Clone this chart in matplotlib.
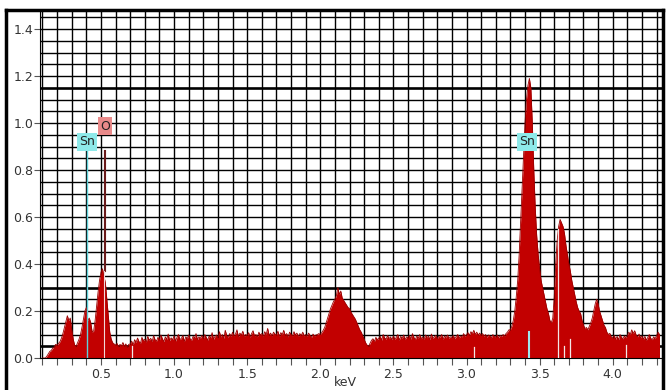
import numpy as np
import matplotlib.pyplot as plt
from matplotlib.ticker import MultipleLocator
from matplotlib.lines import Line2D

# EDS spectrum, counts in thousandths, one channel every 0.01 keV from 0.10 keV
e_start = 0.10
e_step = 0.01
counts = [
    0, 0, 0, 8, 18, 28, 32, 42, 48, 58,              # 0.10
    55, 62, 70, 85, 105, 130, 155, 180, 160, 170,    # 0.20
    120, 80, 55, 50, 65, 80, 100, 130, 165, 200,     # 0.30
    215, 160, 170, 150, 110, 115, 160, 220, 280, 330,  # 0.40
    365, 380, 350, 320, 250, 180, 110, 80, 65, 60,   # 0.50
    55, 62, 48, 58, 52, 66, 50, 60, 45, 58,          # 0.60
    60, 72, 55, 78, 66, 85, 70, 62, 88, 74,          # 0.70
    80, 68, 92, 75, 84, 70, 95, 78, 72, 88,          # 0.80
    76, 98, 82, 70, 90, 80, 102, 74, 86, 78,         # 0.90
    94, 72, 88, 100, 78, 84, 96, 70, 90, 82,         # 1.00
    98, 80, 76, 92, 86, 104, 78, 90, 84, 96,         # 1.10
    82, 100, 88, 76, 94, 86, 108, 80, 92, 98,        # 1.20
    86, 112, 90, 100, 84, 118, 96, 88, 104, 92,      # 1.30
    110, 94, 102, 120, 90, 106, 98, 114, 92, 100,    # 1.40
    96, 108, 88, 104, 116, 94, 100, 90, 110, 98,     # 1.50
    104, 92, 112, 100, 126, 96, 106, 94, 110, 102,   # 1.60
    98, 114, 92, 108, 100, 118, 96, 104, 90, 110,    # 1.70
    100, 94, 112, 98, 106, 92, 104, 96, 110, 94,     # 1.80
    100, 92, 106, 96, 88, 102, 94, 98, 100, 104,     # 1.90
    100, 108, 118, 130, 150, 170, 190, 210, 225, 240,  # 2.00
    250, 265, 300, 270, 285, 255, 245, 235, 225, 215,  # 2.10
    210, 195, 185, 175, 165, 150, 135, 120, 110, 95,   # 2.20
    80, 65, 55, 50, 62, 75, 82, 70, 88, 78,          # 2.30
    84, 92, 76, 100, 86, 80, 96, 82, 90, 78,         # 2.40
    94, 80, 88, 100, 76, 92, 84, 98, 78, 90,         # 2.50
    86, 96, 80, 104, 88, 78, 94, 84, 100, 82,        # 2.60
    90, 80, 98, 86, 94, 78, 102, 84, 90, 96,         # 2.70
    82, 92, 88, 100, 80, 94, 86, 98, 84, 90,         # 2.80
    88, 96, 82, 92, 100, 86, 94, 90, 104, 92,        # 2.90
    100, 108, 96, 112, 104, 118, 100, 110, 98, 106,  # 3.00
    96, 104, 92, 100, 88, 98, 94, 86, 100, 92,       # 3.10
    90, 98, 86, 96, 92, 100, 94, 104, 110, 120,      # 3.20
    120, 135, 160, 200, 260, 330, 440, 580, 720, 860,  # 3.30
    1000, 1100, 1160, 1190, 1150, 1000, 800, 640, 520, 440,  # 3.40
    380, 330, 300, 270, 240, 210, 190, 160, 150, 170,  # 3.50
    260, 400, 500, 560, 590, 575, 560, 530, 480, 440,  # 3.60
    400, 370, 330, 300, 270, 240, 215, 200, 190, 160,  # 3.70
    140, 125, 130, 120, 135, 150, 170, 200, 230, 250,  # 3.80
    230, 200, 180, 160, 140, 130, 110, 100, 105, 90,   # 3.90
    85, 96, 80, 92, 78, 100, 88, 82, 94, 86,         # 4.00
    96, 110, 100, 120, 104, 116, 98, 90, 102, 86,    # 4.10
    94, 80, 92, 76, 88, 100, 84, 78, 90, 82,         # 4.20
    96, 110, 100,                                    # 4.30
]
energy = e_start + e_step * np.arange(len(counts))
intensity = np.array(counts) / 1000.0

# element markers
elem_names = ['Sn', 'O', 'Sn']
elem_x = [0.404, 0.527, 3.414]
elem_y = [0.92, 0.987, 0.92]
elem_colors = ['#8ee9e9', '#e98a8a', '#8ee9e9']

# light gaps in the filled spectrum
gap_x = [0.71, 3.05, 3.625, 3.665, 3.71, 4.09]
gap_top = [0.05, 0.045, 0.55, 0.05, 0.08, 0.055]

fig = plt.figure(figsize=(6.67, 3.9), dpi=100)
ax = fig.add_axes([40/667, 1-358/390, 622/667, 347/390])

xmin, xmax = 0.083, 4.337
ax.set_xlim(xmin, xmax)
ax.set_ylim(0, 1.477)

# grid
for gx in np.arange(0.1, 4.35, 0.1):
    ax.axvline(gx, color='black', lw=1.0, zorder=1)
for gy in np.arange(0.05, 1.5, 0.05):
    thick = any(abs(gy - t) < 1e-6 for t in (0.05, 0.3, 1.15))
    ax.axhline(gy, color='black', lw=1.9 if thick else 1.0, zorder=1)

ax.fill_between(energy, 0, intensity, color='#c20000', lw=0, zorder=2)
ax.plot(energy, intensity, color='#9a0000', lw=0.6, zorder=3)

for gx, gt in zip(gap_x, gap_top):
    ax.plot([gx, gx], [0, gt], color='#f2e6e6', lw=0.9, zorder=4)

# element lines
ax.plot([0.404, 0.404], [0, 0.9], color='#5ed0d8', lw=1.0, zorder=5)
ax.plot([0.52, 0.52], [0.37, 0.885], color='#6a1a1a', lw=0.8, zorder=5)
ax.plot([0.528, 0.528], [0.37, 0.885], color='#6a1a1a', lw=0.8, zorder=5)
ax.plot([0.524, 0.524], [0, 0.37], color='#f0d8d8', lw=0.8, zorder=5)
ax.plot([3.425, 3.425], [0, 0.11], color='#9ee6ee', lw=1.5, zorder=5)

for name, x, y, c in zip(elem_names, elem_x, elem_y, elem_colors):
    ax.text(x, y, name, ha='center', va='center', fontsize=9, color='#222222',
            zorder=6, bbox=dict(boxstyle='square,pad=0.18', fc=c, ec='none'))

ax.xaxis.set_major_locator(MultipleLocator(0.5))
ax.xaxis.set_minor_locator(MultipleLocator(0.1))
ax.yaxis.set_major_locator(MultipleLocator(0.2))
ax.yaxis.set_minor_locator(MultipleLocator(0.05))
ax.xaxis.set_major_formatter(plt.FormatStrFormatter('%.1f'))
ax.yaxis.set_major_formatter(plt.FormatStrFormatter('%.1f'))
ax.tick_params(axis='x', which='both', length=5, width=0.8, color='#555555',
               labelsize=9, labelcolor='#333333', pad=2)
ax.tick_params(axis='y', which='major', length=4, width=0.8, color='#555555',
               labelsize=9, labelcolor='#333333', pad=1)
ax.tick_params(axis='y', which='minor', length=0)
ax.set_xticks([0.5, 1.0, 1.5, 2.0, 2.5, 3.0, 3.5, 4.0])

# axis title sits right at the bottom edge
fig.text(345/667, 1/390, 'keV', ha='center', va='bottom', fontsize=9,
         color='#333333')

for side in ['top', 'right']:
    ax.spines[side].set_visible(False)
ax.spines['left'].set_color('black')
ax.spines['bottom'].set_color('black')

# outer frame
fig.add_artist(Line2D([6/667, 6/667], [0, 1-10/390], color='black', lw=2.5))
fig.add_artist(Line2D([6/667, 663/667], [1-10/390, 1-10/390], color='black', lw=2.5))
fig.add_artist(Line2D([663/667, 663/667], [0, 1-10/390], color='black', lw=2.5))

fig.savefig('out.png', dpi=100)
